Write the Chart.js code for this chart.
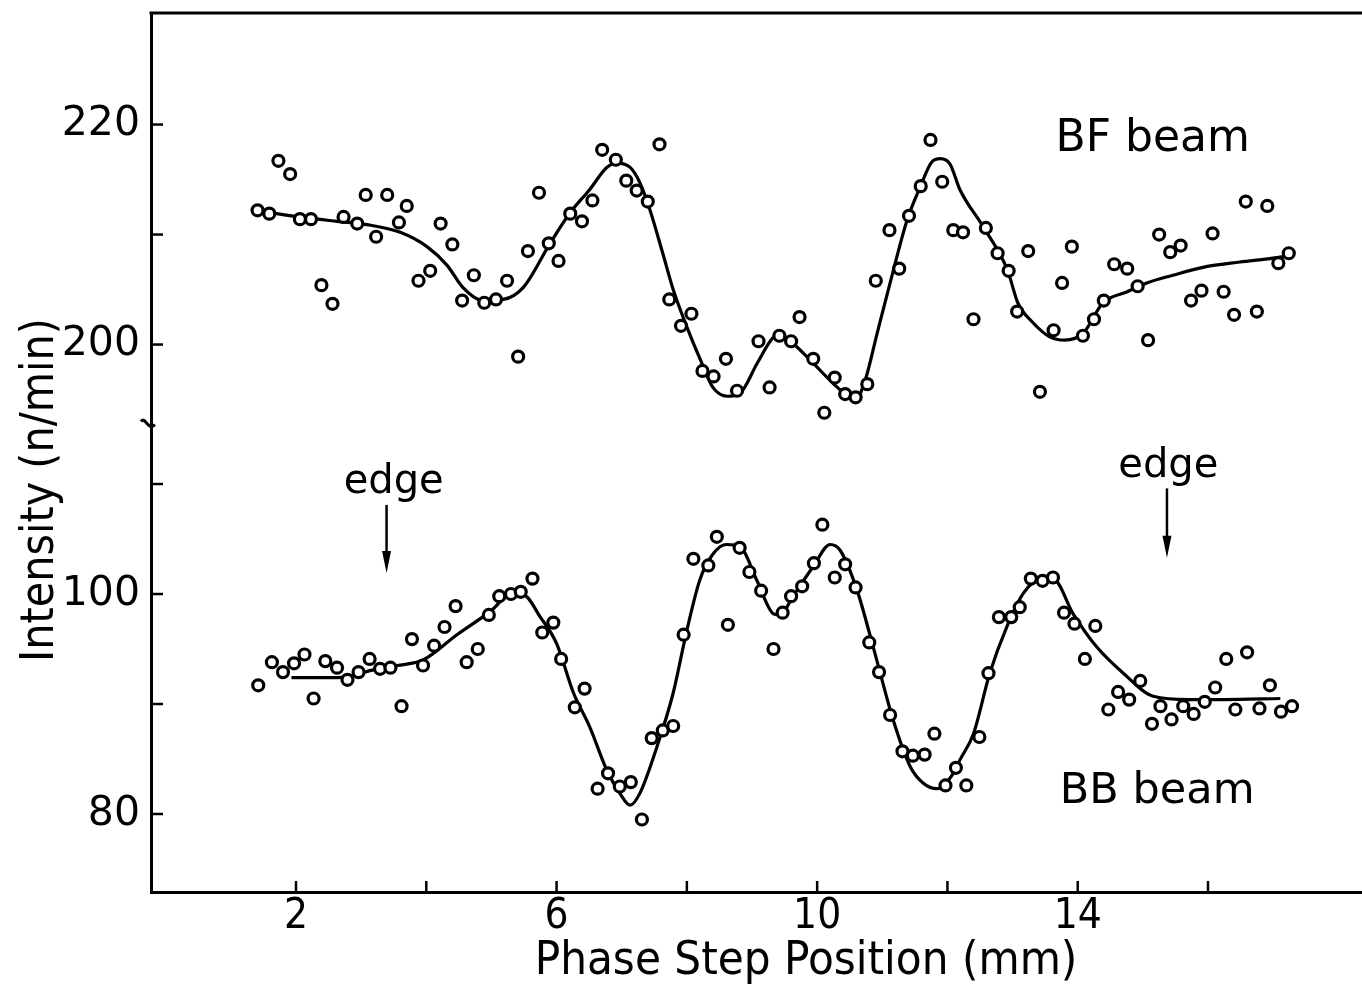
<!DOCTYPE html>
<html>
<head>
<meta charset="utf-8">
<script src="https://cdn.jsdelivr.net/npm/chart.js@4"></script>
<style>
  body { margin: 0; background: #fff; }
  canvas { display: block; }
</style>
</head>
<body>
<canvas id="canvas" width="1362" height="989"></canvas>
<script>
// BF beam (upper panel) measured points, n/min
var bfX = [1.41,1.59,1.73,1.91,2.06,2.23,2.39,2.56,2.73,2.94,
    3.07,3.23,3.40,3.58,3.70,3.88,4.06,4.22,4.40,4.55,
    4.73,4.89,5.07,5.24,5.41,5.56,5.73,5.88,6.03,6.21,
    6.39,6.55,6.70,6.91,7.07,7.23,7.40,7.58,7.73,7.91,
    8.07,8.24,8.41,8.60,8.77,9.10,9.27,9.42,9.60,9.73,
    9.94,10.11,10.27,10.43,10.59,10.77,10.90,11.11,11.26,11.41,
    11.59,11.74,11.92,12.09,12.24,12.40,12.59,12.77,12.94,13.07,
    13.24,13.42,13.63,13.76,13.91,14.08,14.25,14.40,14.56,14.76,
    14.92,15.08,15.25,15.42,15.58,15.74,15.90,16.07,16.24,16.40,
    16.58,16.75,16.91,17.08,17.24];
var bfY = [212.2,211.9,216.7,215.5,211.4,211.4,205.4,203.7,211.6,211.0,
    213.6,209.8,213.6,211.1,212.6,205.8,206.7,211.0,209.1,204.0,
    206.3,203.8,204.1,205.8,198.9,208.5,213.8,209.2,207.6,211.9,
    211.2,213.1,217.7,216.8,214.9,214.0,213.0,218.2,204.1,201.7,
    202.8,197.6,197.1,198.7,195.8,200.3,196.1,200.8,200.3,202.5,
    198.7,193.8,197.0,195.5,195.2,196.4,205.8,210.4,206.9,211.7,
    214.4,218.6,214.8,210.4,210.2,202.3,210.6,208.3,206.7,203.0,
    208.5,195.7,201.3,205.6,208.9,200.8,202.3,204.0,207.3,206.9,
    205.3,200.4,210.0,208.4,209.0,204.0,204.9,210.1,204.8,202.7,
    213.0,203.0,212.6,207.4,208.3];

// BF fitted curve
var bfFitX = [1.49,2.06,2.63,3.09,3.60,4.01,4.32,4.56,4.87,5.18,
    5.49,5.90,6.21,6.51,6.77,6.93,7.13,7.28,7.43,7.63,
    7.79,8.00,8.23,8.40,8.62,8.82,9.08,9.32,9.43,9.63,
    9.94,10.24,10.46,10.61,10.74,10.92,11.12,11.38,11.58,11.76,
    11.89,12.04,12.19,12.55,12.92,13.08,13.31,13.57,13.80,14.08,
    14.39,14.76,15.06,15.46,15.99,16.49,17.06,17.23];
var bfFitY = [212.1,211.6,211.2,210.9,210.2,208.9,207.2,205.2,204.0,204.1,
    205.2,209.2,212.0,214.1,216.1,216.5,216.1,214.7,212.3,208.3,
    205.0,201.6,198.3,196.1,195.3,195.6,198.3,200.6,200.9,200.1,
    198.3,196.5,195.4,195.2,196.8,201.0,205.6,211.3,214.3,216.6,
    216.9,216.4,214.1,210.7,206.8,203.8,202.0,200.7,200.4,201.0,
    203.8,204.8,205.6,206.3,207.1,207.5,207.9,208.1];

// BB beam (lower panel) measured points
var bbX = [1.42,1.63,1.80,1.97,2.13,2.27,2.45,2.63,2.79,2.96,
    3.13,3.29,3.45,3.62,3.78,3.95,4.12,4.28,4.45,4.62,
    4.79,4.96,5.12,5.30,5.45,5.63,5.78,5.95,6.07,6.28,
    6.43,6.63,6.79,6.97,7.14,7.31,7.46,7.63,7.79,7.95,
    8.10,8.33,8.46,8.63,8.81,8.96,9.14,9.33,9.47,9.60,
    9.77,9.95,10.08,10.27,10.43,10.59,10.80,10.95,11.12,11.31,
    11.47,11.65,11.80,11.97,12.13,12.29,12.49,12.63,12.79,12.98,
    13.11,13.28,13.46,13.62,13.79,13.95,14.11,14.27,14.47,14.62,
    14.79,14.96,15.14,15.27,15.44,15.62,15.78,15.95,16.11,16.28,
    16.42,16.60,16.79,16.95,17.12,17.29];
var bbY = [91.7,93.8,92.9,93.7,94.5,90.5,93.9,93.3,92.2,92.9,
    94.1,93.2,93.3,89.8,95.9,93.5,95.3,97.0,98.9,93.8,
    95.0,98.1,99.8,100.0,100.2,101.4,96.5,97.4,94.1,89.7,
    91.4,82.3,83.7,82.5,82.9,79.5,86.9,87.6,88.0,96.3,
    103.2,102.6,105.2,97.2,104.2,102.0,100.3,95.0,98.3,99.8,
    100.7,102.8,106.3,101.5,102.7,100.6,95.6,92.9,89.0,85.7,
    85.3,85.4,87.3,82.6,84.2,82.6,87.0,92.8,97.9,97.9,
    98.8,101.4,101.2,101.5,98.3,97.3,94.1,97.1,89.5,91.1,
    90.4,92.1,88.2,89.8,88.6,89.8,89.1,90.2,91.5,94.1,
    89.5,94.7,89.6,91.7,89.3,89.8];

// BB fitted curve
var bbFitX = [1.93,2.63,3.19,3.55,3.95,4.47,4.98,5.29,5.49,5.75,
    6.00,6.26,6.51,6.77,6.97,7.13,7.28,7.54,7.79,8.00,
    8.20,8.41,8.61,8.82,9.07,9.33,9.43,9.63,9.94,10.20,
    10.35,10.61,10.86,11.17,11.43,11.63,11.84,12.09,12.19,12.40,
    12.65,12.91,13.17,13.42,13.63,13.93,14.29,14.70,15.16,15.72,
    16.24,17.11];
var bbFitY = [92.4,92.4,93.1,93.5,94.0,96.3,98.4,99.9,99.9,97.9,
    95.5,91.0,87.9,84.0,81.9,80.8,81.9,86.1,91.0,96.7,
    101.3,103.7,104.5,104.3,101.3,98.2,98.1,99.8,102.5,104.5,
    104.0,100.4,95.2,88.5,84.3,82.8,82.3,83.7,84.9,87.3,
    92.8,97.0,100.1,101.3,101.3,98.2,95.2,92.8,90.7,90.4,
    90.4,90.5];

var xTicks = [2, 4, 6, 8, 10, 12, 14, 16];
var xTickLabels = ['2', '6', '10', '14'];
var yTicks = [80, 90, 100, 110, 200, 210, 220];
var yTickLabels = ['80', '100', '200', '220'];

// broken y axis: upper panel values are shifted down onto one scale
var SHIFT = 77.32;
var BREAK_AT = 115.5;

function toAxis(v) { return v > 150 ? v - SHIFT : v; }
function pts(xs, ys) {
    return xs.map(function(x, i) { return {x: x, y: toAxis(ys[i])}; });
}

var notes = [
    {text: 'BF beam', x: 15.15, y: 217.6, size: 44},
    {text: 'BB beam', x: 15.22, y: 81.0, size: 43},
    {text: 'edge', x: 3.50, y: 109.2, size: 40},
    {text: 'edge', x: 15.39, y: 110.6, size: 40}
];
var arrows = [
    {x: 3.39, from: 108.1, to: 101.9},
    {x: 15.37, from: 109.6, to: 103.3}
];

var sans = "'DejaVu Sans', sans-serif";
var narrow = "'DejaVu Sans Condensed', 'DejaVu Sans', sans-serif";

var decor = {
    id: 'decor',
    afterDraw: function(chart) {
        var ctx = chart.ctx, a = chart.chartArea;
        var sx = chart.scales.x, sy = chart.scales.y;
        ctx.save();
        ctx.strokeStyle = '#000';
        ctx.fillStyle = '#000';
        ctx.lineCap = 'butt';

        // top frame
        ctx.lineWidth = 3;
        ctx.beginPath();
        ctx.moveTo(a.left - 1.5, a.top);
        ctx.lineTo(a.right, a.top);
        ctx.stroke();

        // inward ticks
        ctx.lineWidth = 2.5;
        sx.ticks.forEach(function(t) {
            var px = sx.getPixelForValue(t.value);
            ctx.beginPath();
            ctx.moveTo(px, a.bottom);
            ctx.lineTo(px, a.bottom - 11);
            ctx.stroke();
        });
        sy.ticks.forEach(function(t) {
            var py = sy.getPixelForValue(t.value);
            ctx.beginPath();
            ctx.moveTo(a.left, py);
            ctx.lineTo(a.left + 12, py);
            ctx.stroke();
        });

        // axis break mark
        var by = sy.getPixelForValue(BREAK_AT);
        ctx.lineWidth = 3;
        ctx.beginPath();
        ctx.moveTo(a.left - 10, by - 2);
        ctx.bezierCurveTo(a.left - 5, by - 8, a.left - 4, by + 8, a.left + 4, by + 1);
        ctx.stroke();

        // arrows
        arrows.forEach(function(ar) {
            var px = sx.getPixelForValue(ar.x);
            var y0 = sy.getPixelForValue(ar.from);
            var y1 = sy.getPixelForValue(ar.to);
            ctx.lineWidth = 2.5;
            ctx.beginPath();
            ctx.moveTo(px, y0);
            ctx.lineTo(px, y1 - 18);
            ctx.stroke();
            ctx.beginPath();
            ctx.moveTo(px - 4.5, y1 - 22);
            ctx.lineTo(px + 4.5, y1 - 22);
            ctx.lineTo(px, y1);
            ctx.closePath();
            ctx.fill();
        });

        // text notes
        ctx.textAlign = 'center';
        ctx.textBaseline = 'alphabetic';
        notes.forEach(function(n) {
            ctx.font = n.size + 'px ' + sans;
            ctx.fillText(n.text, sx.getPixelForValue(n.x), sy.getPixelForValue(toAxis(n.y)));
        });

        // axis titles
        ctx.textBaseline = 'middle';
        ctx.font = '47px ' + narrow;
        ctx.fillText('Phase Step Position (mm)', 806, 962);
        ctx.save();
        ctx.translate(41, 490);
        ctx.rotate(-Math.PI / 2);
        ctx.font = '46px ' + narrow;
        ctx.fillText('Intensity (n/min)', 0, 0);
        ctx.restore();
        ctx.restore();
    }
};

window.onload = function() {
    var ctx = document.getElementById('canvas').getContext('2d');
    window.chart = new Chart(ctx, {
        type: 'scatter',
        data: {
            datasets: [{
                label: 'BF beam',
                data: pts(bfX, bfY),
                order: 0,
                pointRadius: 5.5,
                pointBorderWidth: 3.2,
                pointBackgroundColor: '#fff',
                pointBorderColor: '#000'
            }, {
                label: 'BB beam',
                data: pts(bbX, bbY),
                order: 0,
                pointRadius: 5.5,
                pointBorderWidth: 3.2,
                pointBackgroundColor: '#fff',
                pointBorderColor: '#000'
            }, {
                label: 'BF fit',
                data: pts(bfFitX, bfFitY),
                order: 1,
                showLine: true,
                pointRadius: 0,
                borderColor: '#000',
                borderWidth: 3.2,
                cubicInterpolationMode: 'monotone'
            }, {
                label: 'BB fit',
                data: pts(bbFitX, bbFitY),
                order: 1,
                showLine: true,
                pointRadius: 0,
                borderColor: '#000',
                borderWidth: 3.2,
                cubicInterpolationMode: 'monotone'
            }]
        },
        options: {
            responsive: false,
            animation: false,
            devicePixelRatio: 1,
            layout: { autoPadding: false, padding: { top: 13, right: 0, left: 0, bottom: 0 } },
            plugins: {
                legend: { display: false },
                tooltip: { enabled: false }
            },
            scales: {
                x: {
                    type: 'linear',
                    min: -0.226,
                    max: 18.364,
                    afterFit: function(s) {
                        s.height = 97;
                        s.paddingLeft = 0;
                        s.paddingRight = 0;
                    },
                    afterBuildTicks: function(s) {
                        s.ticks = xTicks.map(function(v) { return {value: v}; });
                    },
                    grid: { display: false, drawTicks: false },
                    border: { display: true, color: '#000', width: 3 },
                    ticks: {
                        autoSkip: false,
                        maxRotation: 0,
                        padding: 0,
                        color: '#000',
                        font: { family: narrow, size: 42 },
                        callback: function(v) {
                            return xTickLabels.indexOf(String(v)) >= 0 ? String(v) : '';
                        }
                    }
                },
                y: {
                    type: 'linear',
                    min: 72.91,
                    max: 152.82,
                    afterFit: function(s) {
                        s.width = 151;
                        s.paddingTop = 0;
                        s.paddingBottom = 0;
                    },
                    afterBuildTicks: function(s) {
                        s.ticks = yTicks.map(function(v) { return {value: toAxis(v)}; });
                    },
                    grid: { display: false, drawTicks: false },
                    border: { display: true, color: '#000', width: 3 },
                    ticks: {
                        autoSkip: false,
                        padding: 11,
                        color: '#000',
                        font: { family: sans, size: 41 },
                        callback: function(v) {
                            var real = v > BREAK_AT ? Math.round(v + SHIFT) : Math.round(v);
                            return yTickLabels.indexOf(String(real)) >= 0 ? String(real) : '';
                        }
                    }
                }
            }
        },
        plugins: [decor]
    });
};
</script>
</body>
</html>
